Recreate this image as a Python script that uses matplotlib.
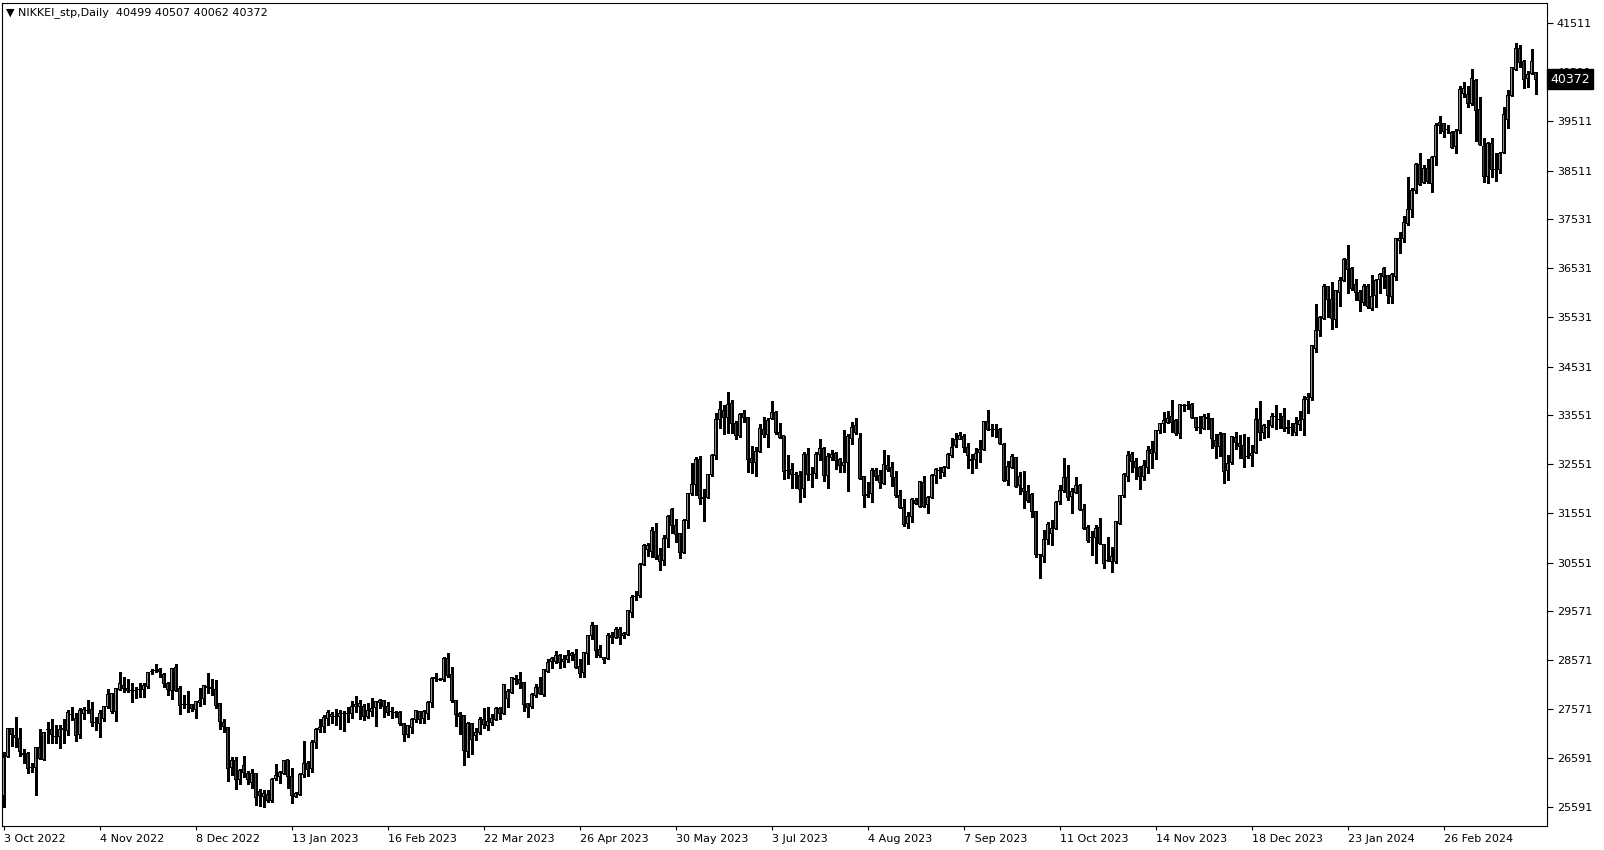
import matplotlib
matplotlib.use("Agg")
import matplotlib.pyplot as plt
import numpy as np

title = "\u25BC NIKKEI_stp,Daily  40499 40507 40062 40372"
last_price_label = "40372"

date_labels = ["3 Oct 2022", "4 Nov 2022", "8 Dec 2022", "13 Jan 2023", "16 Feb 2023",
               "22 Mar 2023", "26 Apr 2023", "30 May 2023", "3 Jul 2023", "4 Aug 2023",
               "7 Sep 2023", "11 Oct 2023", "14 Nov 2023", "18 Dec 2023", "23 Jan 2024",
               "26 Feb 2024"]
date_label_bars = [0, 24, 48, 72, 96, 120, 144, 168, 192, 216, 240, 264, 288, 312, 336, 360]

price_ticks = [41511, 40511, 39511, 38511, 37531, 36531, 35531, 34531, 33551,
               32551, 31551, 30551, 29571, 28571, 27571, 26591, 25591]

opens = [25818, 26610, 27172, 27043, 26982, 26677, 26677, 26386, 26393, 26799,
         26555, 27151, 27165, 27019, 27016, 27165, 27138, 27456, 27388, 27063,
         27490, 27544, 27571, 27300, 27287, 27388, 27625, 27524, 27524, 27977,
         28045, 27997, 27950, 27950, 27964, 27977, 28031, 28336, 28356, 28383,
         28288, 28085, 27963, 28424, 27997, 27672, 27672, 27659, 27571, 27713,
         27781, 28031, 28018, 27977, 27679, 27300, 27205, 26386, 26528, 26149,
         26427, 26271, 26081, 26271, 25899, 25797, 25845, 25709, 26170, 26203,
         26271, 26542, 26203, 25797, 25845, 26251, 26474, 26373, 26901, 27165,
         27219, 27375, 27435, 27422, 27422, 27490, 27490, 27490, 27625, 27625,
         27638, 27422, 27523, 27605, 27706, 27740, 27638, 27517, 27503, 27503,
         27287, 27063, 27205, 27354, 27523, 27375, 27490, 27706, 28187, 28180,
         28167, 28607, 28282, 27747, 27476, 27442, 26711, 27287, 27029, 27104,
         27368, 27250, 27300, 27368, 27591, 27489, 27794, 27916, 28180, 28180,
         28119, 27693, 27625, 27848, 28018, 27862, 28349, 28539, 28552, 28654,
         28539, 28586, 28654, 28674, 28437, 28322, 28708, 29067, 29263, 28789,
         28620, 28607, 29080, 29026, 29202, 29060, 29094, 29541, 29859, 29873,
         30522, 30820, 30773, 31179, 30685, 30590, 31044, 31619, 31294, 31132,
         30759, 31396, 31944, 32141, 32635, 31877, 31877, 32330, 32723, 33461,
         33630, 33501, 33772, 33380, 33129, 33569, 33501, 32655, 32587, 32804,
         33258, 33156, 33481, 33603, 33197, 33122, 32411, 32432, 32330, 32310,
         32059, 32749, 32350, 32363, 32749, 32871, 32316, 32688, 32769, 32654,
         32532, 32580, 33074, 33325, 33074, 32309, 31943, 31957, 32431, 32329,
         32160, 32532, 32485, 32282, 31923, 31673, 31348, 31497, 31822, 31700,
         32180, 31734, 31876, 32329, 32417, 32377, 32485, 32722, 32925, 33060,
         33108, 32884, 32654, 32648, 32783, 32851, 33413, 33264, 33264, 33264,
         32959, 32214, 32485, 32688, 32126, 32059, 32004, 31943, 31585, 30705,
         30671, 31023, 31145, 31246, 31788, 32011, 32282, 31903, 31970, 32126,
         31632, 31260, 31057, 31063, 31266, 30921, 30603, 30569, 30569, 31348,
         31904, 32296, 32750, 32601, 32486, 32296, 32486, 32838, 32784, 33224,
         33366, 33393, 33528, 33427, 33176, 33738, 33738, 33752, 33501, 33298,
         33278, 33501, 33468, 33021, 32906, 33163, 32411, 32581, 33095, 32973,
         32919, 32703, 32723, 32784, 33447, 33190, 33298, 33325, 33515, 33447,
         33515, 33278, 33300, 33200, 33359, 33461, 33853, 33901, 34903, 35255,
         35512, 36155, 35884, 35492, 36040, 36290, 36697, 36527, 36189, 36040,
         35837, 36168, 35715, 35972, 36304, 36527, 36378, 35952, 36358, 37083,
         37137, 37441, 37726, 38098, 38640, 38274, 38558, 38254, 38795, 39486,
         39472, 39337, 39290, 38999, 39324, 40068, 40061, 39865, 40332, 39743,
         38999, 38389, 39066, 38525, 38525, 38877, 39554, 40047, 40569, 40996,
         40725, 40386, 40488, 40499]

highs = [26711, 27200, 27185, 27408, 27185, 26765, 26711, 26474, 26813, 27165,
         27117, 27320, 27375, 27253, 27253, 27368, 27557, 27625, 27490, 27591,
         27625, 27761, 27727, 27422, 27557, 27645, 27977, 27896, 28011, 28322,
         28221, 28187, 28099, 28031, 28099, 28099, 28336, 28390, 28485, 28404,
         28302, 28133, 28417, 28492, 28045, 27862, 27943, 27672, 27747, 27997,
         28065, 28316, 28187, 28167, 27706, 27368, 27219, 26596, 26610, 26359,
         26623, 26319, 26352, 26285, 25946, 25932, 25932, 26170, 26461, 26325,
         26542, 26542, 26386, 25899, 26271, 26928, 26528, 26948, 27185, 27375,
         27456, 27557, 27523, 27571, 27557, 27544, 27625, 27740, 27842, 27761,
         27672, 27706, 27808, 27747, 27774, 27761, 27727, 27625, 27544, 27537,
         27287, 27253, 27388, 27557, 27544, 27557, 27740, 28234, 28302, 28214,
         28641, 28708, 28437, 27761, 27523, 27456, 27320, 27300, 27199, 27408,
         27600, 27625, 27470, 27625, 27625, 28085, 27977, 28234, 28268, 28322,
         28133, 27706, 27896, 28079, 28234, 28383, 28586, 28627, 28755, 28688,
         28674, 28776, 28742, 28789, 28586, 28742, 29080, 29338, 29277, 28877,
         28641, 29114, 29135, 29236, 29236, 29148, 29588, 29893, 29981, 30536,
         30922, 30942, 31281, 31362, 30841, 31112, 31518, 31667, 31430, 31159,
         31430, 31958, 32581, 32703, 32716, 32039, 32344, 32757, 33583, 33833,
         33752, 34023, 33853, 33427, 33583, 33650, 33515, 32919, 32906, 33359,
         33515, 33495, 33833, 33630, 33380, 33122, 32736, 32567, 32398, 32411,
         32803, 32871, 32499, 32803, 33060, 32905, 32769, 32837, 32790, 32681,
         33243, 33155, 33413, 33480, 33176, 32316, 32194, 32465, 32465, 32431,
         32837, 32735, 32587, 32417, 32025, 31835, 31571, 31855, 31869, 32208,
         32309, 31910, 32343, 32465, 32499, 32512, 32769, 33074, 33176, 33210,
         33155, 32986, 32749, 32884, 33040, 33426, 33649, 33365, 33365, 33277,
         32972, 32614, 32749, 32702, 32397, 32410, 32126, 31957, 31598, 30725,
         31212, 31382, 31415, 31801, 32126, 32668, 32532, 32059, 32295, 32140,
         31734, 31314, 31192, 31314, 31449, 30928, 31077, 30874, 31395, 31923,
         32364, 32818, 32804, 32669, 32513, 32635, 32919, 33021, 33244, 33380,
         33616, 33630, 33853, 33461, 33765, 33772, 33833, 33786, 33515, 33528,
         33562, 33583, 33481, 33163, 33210, 33190, 32736, 33122, 33210, 33143,
         33163, 33109, 32939, 33684, 33833, 33359, 33447, 33583, 33752, 33583,
         33684, 33447, 33380, 33515, 33630, 33935, 33989, 34971, 35803, 35566,
         36209, 36168, 36243, 36087, 36358, 36730, 37001, 36561, 36311, 36087,
         36202, 36209, 36392, 36311, 36439, 36561, 36392, 36425, 37137, 37272,
         37590, 38389, 38152, 38660, 38876, 38626, 38741, 38809, 39472, 39621,
         39486, 39439, 39323, 39351, 40231, 40319, 40231, 40569, 40366, 40014,
         39168, 39100, 39168, 38863, 38897, 39811, 40149, 40623, 41111, 41063,
         40759, 40542, 40975, 40507]

lows = [25594, 26596, 26826, 26813, 26623, 26488, 26271, 26291, 25831, 26562,
        26542, 26894, 26880, 26880, 26779, 26880, 27050, 27354, 26928, 26982,
        27375, 27490, 27239, 27151, 27016, 27341, 27605, 27490, 27341, 27964,
        27930, 27916, 27727, 27794, 27828, 27828, 28011, 28289, 28322, 28234,
        28031, 27862, 27781, 27950, 27476, 27605, 27523, 27537, 27402, 27639,
        27672, 27909, 27862, 27605, 27171, 27117, 26122, 26237, 25953, 26054,
        26203, 26054, 25980, 25628, 25607, 25594, 25696, 25682, 26136, 26081,
        26251, 25980, 25675, 25784, 25831, 26190, 26224, 26305, 26779, 27104,
        27117, 27253, 27287, 27253, 27165, 27138, 27320, 27388, 27523, 27368,
        27354, 27388, 27435, 27232, 27591, 27422, 27456, 27388, 27408, 27253,
        26935, 27016, 27097, 27320, 27287, 27287, 27375, 27625, 28153, 28167,
        28153, 28234, 27727, 27232, 27070, 26440, 26610, 26657, 26948, 27070,
        27200, 27150, 27250, 27354, 27368, 27476, 27611, 27896, 28085, 27997,
        27544, 27422, 27591, 27828, 27882, 27848, 28336, 28404, 28505, 28404,
        28437, 28539, 28573, 28404, 28234, 28234, 28485, 28999, 28640, 28627,
        28518, 28586, 28911, 29013, 28891, 29013, 29080, 29453, 29791, 29859,
        30502, 30692, 30671, 30624, 30400, 30502, 30875, 31145, 30976, 30638,
        30753, 31260, 31924, 31924, 31734, 31403, 31856, 32317, 32655, 33278,
        33156, 33190, 33190, 33055, 33109, 33400, 32384, 32364, 32310, 32804,
        33109, 32906, 33468, 33163, 33075, 32242, 32262, 32059, 32059, 31775,
        31889, 32228, 32092, 32262, 32634, 32207, 32072, 32634, 32444, 32397,
        32397, 32011, 32959, 33155, 32248, 31673, 31876, 31788, 32228, 32072,
        32147, 32417, 32113, 31889, 31652, 31300, 31246, 31382, 31734, 31686,
        31686, 31551, 31855, 32160, 32262, 32309, 32465, 32702, 32891, 33054,
        32803, 32478, 32377, 32478, 32600, 32837, 33243, 33128, 33108, 32959,
        32207, 32126, 32465, 32079, 31937, 31652, 31788, 31470, 30657, 30244,
        30569, 30921, 30907, 31233, 31734, 31977, 31822, 31551, 31957, 31619,
        31233, 30976, 30705, 30535, 30928, 30447, 30583, 30366, 30549, 31334,
        31890, 32208, 32384, 32242, 32039, 32229, 32364, 32479, 32655, 33176,
        33210, 33380, 33210, 33142, 33088, 33630, 33671, 33481, 33244, 33176,
        33258, 33264, 32885, 32669, 32723, 32161, 32229, 32554, 32858, 32669,
        32499, 32669, 32513, 32770, 33041, 33075, 33109, 33312, 33258, 33278,
        33220, 33180, 33150, 33150, 33244, 33150, 33582, 33853, 34835, 35153,
        35492, 35546, 35295, 35343, 35762, 36270, 36033, 36087, 35884, 35668,
        35783, 35729, 35681, 35735, 36020, 36121, 35816, 35830, 36290, 36845,
        37056, 37407, 37577, 38064, 38220, 38254, 38267, 38084, 38626, 39269,
        39188, 39269, 38965, 38863, 39269, 40014, 39811, 39845, 39120, 39032,
        38288, 38267, 38389, 38308, 38457, 38863, 39371, 40027, 40556, 40623,
        40183, 40217, 40468, 40062]

closes = [26596, 27185, 27063, 26995, 26711, 26657, 26373, 26386, 26799, 26576,
          27104, 27151, 27063, 27019, 27151, 27185, 27510, 27456, 27036, 27537,
          27557, 27544, 27307, 27300, 27490, 27625, 27862, 27882, 27997, 28085,
          27997, 27950, 27950, 27950, 27964, 28045, 28322, 28336, 28356, 28336,
          28099, 27977, 28404, 27963, 27645, 27672, 27672, 27578, 27727, 27760,
          28045, 28011, 27984, 27645, 27320, 27219, 26373, 26522, 26136, 26319,
          26291, 26136, 26271, 25784, 25817, 25851, 25716, 26149, 26217, 26285,
          26522, 26203, 25817, 25865, 26251, 26474, 26352, 26901, 27165, 27205,
          27408, 27510, 27469, 27422, 27476, 27490, 27490, 27625, 27672, 27679,
          27422, 27537, 27591, 27727, 27740, 27625, 27503, 27517, 27503, 27287,
          27063, 27232, 27354, 27537, 27354, 27523, 27706, 28200, 28221, 28180,
          28607, 28255, 27747, 27469, 27422, 26731, 27287, 26962, 27104, 27368,
          27260, 27320, 27390, 27591, 27489, 28065, 27930, 28221, 28200, 28099,
          27672, 27611, 27862, 28018, 27896, 28370, 28525, 28593, 28654, 28525,
          28586, 28654, 28695, 28424, 28302, 28728, 29060, 29263, 28762, 28661,
          28586, 29080, 29033, 29202, 29026, 29114, 29575, 29845, 29859, 30522,
          30908, 30888, 31193, 30651, 30570, 31044, 31497, 31294, 31125, 30759,
          31396, 31944, 32127, 32635, 31856, 31856, 32330, 32723, 33461, 33650,
          33501, 33752, 33380, 33129, 33562, 33501, 32648, 32587, 32804, 33278,
          33156, 33427, 33603, 33190, 33095, 32398, 32411, 32350, 32330, 32039,
          32749, 32343, 32350, 32749, 32871, 32316, 32702, 32756, 32634, 32519,
          32587, 33121, 33297, 33196, 32262, 31923, 31910, 32431, 32295, 32174,
          32546, 32451, 32295, 31910, 31673, 31334, 31497, 31835, 31754, 32194,
          31700, 31876, 32316, 32444, 32417, 32485, 32749, 32891, 33054, 33142,
          32884, 32722, 32634, 32769, 32851, 33413, 33264, 33264, 33264, 32972,
          32214, 32499, 32715, 32106, 32295, 31991, 31808, 31585, 30718, 30705,
          31023, 31334, 31246, 31774, 32025, 32275, 31869, 31991, 32126, 31632,
          31246, 30996, 31057, 31246, 30942, 30535, 30603, 30671, 31382, 31910,
          32330, 32716, 32614, 32486, 32296, 32513, 32818, 32757, 33224, 33366,
          33427, 33481, 33393, 33176, 33752, 33738, 33738, 33501, 33298, 33298,
          33528, 33468, 33061, 32906, 33143, 32398, 32567, 33109, 32994, 32906,
          32669, 32703, 32770, 33447, 33190, 33325, 33298, 33528, 33515, 33447,
          33278, 33300, 33290, 33366, 33427, 33867, 33901, 34950, 35255, 35532,
          36168, 35898, 35512, 36067, 36270, 36697, 36507, 36108, 36040, 35864,
          36168, 35749, 35965, 36270, 36392, 36358, 35972, 36405, 37123, 37123,
          37462, 37712, 38118, 38626, 38233, 38558, 38288, 38782, 39438, 39418,
          39303, 39337, 38985, 39303, 40163, 40183, 39879, 40386, 39730, 39046,
          38389, 39066, 38538, 38538, 38863, 39642, 40047, 40603, 40996, 40711,
          40366, 40468, 40725, 40372]

W, H = 1604, 850
DPI = 100
fig = plt.figure(figsize=(W / DPI, H / DPI), dpi=DPI, facecolor="white")

left_px, right_px, top_px, bottom_px = 2, 1547, 3, 826
ax = fig.add_axes([left_px / W, 1 - bottom_px / H,
                   (right_px - left_px) / W, (bottom_px - top_px) / H])
ax.set_facecolor("white")

o = np.array(opens, dtype=float)
h = np.array(highs, dtype=float)
l = np.array(lows, dtype=float)
c = np.array(closes, dtype=float)
x = np.arange(len(o))

bar_px = 4.0
x0 = -(3.5 - left_px) / bar_px
ax.set_xlim(x0, x0 + (right_px - left_px) / bar_px)
y_lo, y_hi = 25201, 41916
ax.set_ylim(y_lo, y_hi)
px_price = (y_hi - y_lo) / (bottom_px - top_px)   # price units per pixel

GREEN = "#1EE01E"
RED = "#F00000"

# wicks
ax.vlines(x, l, h, colors="black", linewidth=0.75, antialiased=False, zorder=2)

bottoms = np.minimum(o, c)
tops = np.maximum(o, c)
# black outline block (3 px wide, 1 px border)
ax.bar(x, tops - bottoms + px_price, bottom=bottoms - 0.5 * px_price,
       width=3.0 / bar_px, color="black", linewidth=0, antialiased=False, zorder=3)
# coloured fill inside
inner_h = tops - bottoms - px_price
mask = inner_h > 0
fill_colors = np.where(c > o, GREEN, RED)
ax.bar(x[mask], inner_h[mask], bottom=bottoms[mask] + 0.5 * px_price,
       width=1.2 / bar_px, color=fill_colors[mask], linewidth=0,
       antialiased=False, zorder=4)

for s in ax.spines.values():
    s.set_color("black")
    s.set_linewidth(0.8)

ax.yaxis.tick_right()
ax.set_yticks(price_ticks)
ax.set_yticklabels([str(p) for p in price_ticks])
ax.tick_params(axis="y", direction="out", length=4, width=0.8, pad=3,
               labelsize=8, colors="black")

ax.set_xticks(date_label_bars)
ax.set_xticklabels(date_labels, ha="left")
ax.tick_params(axis="x", direction="out", length=3, width=0.8, pad=3,
               labelsize=8, colors="black")

fig.text(6 / W, 1 - 12.5 / H, title, fontsize=8, color="black",
         ha="left", va="center")

yfrac = 1 - (top_px + (y_hi - closes[-1]) / px_price) / H
fig.text(1550 / W, yfrac, last_price_label, fontsize=9, color="white",
         ha="left", va="center", zorder=10,
         bbox=dict(boxstyle="square,pad=0.25", fc="black", ec="black"))

fig.savefig("out.png", dpi=DPI, facecolor="white")
